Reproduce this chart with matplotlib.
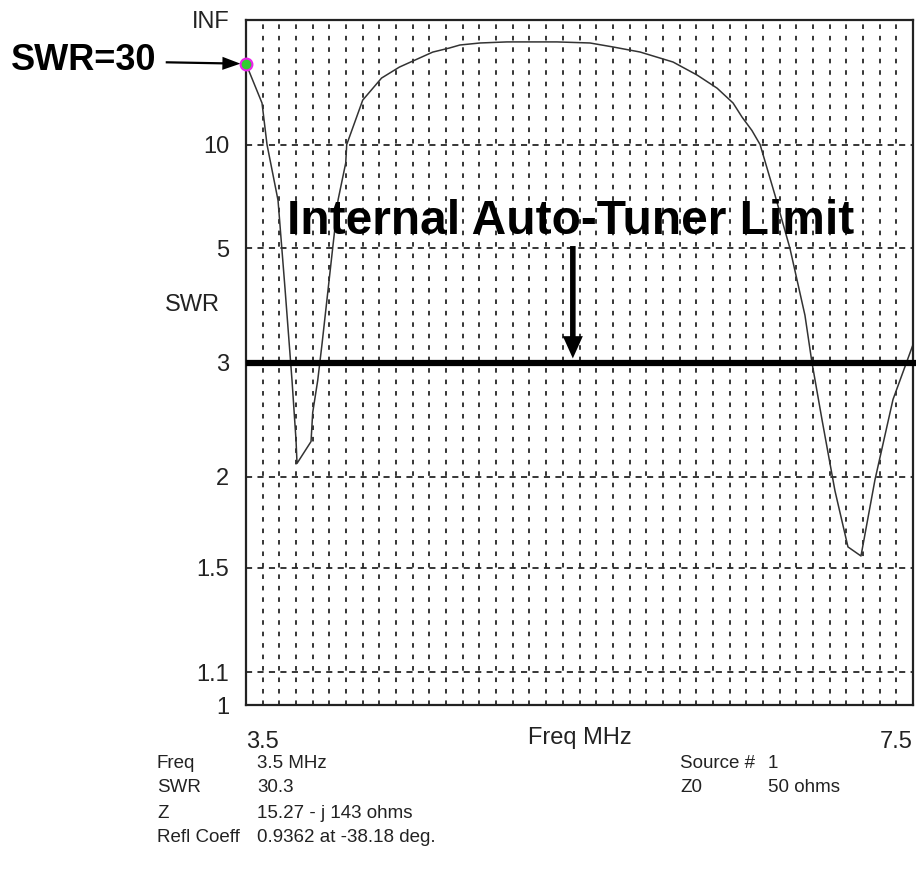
import numpy as np
import matplotlib
matplotlib.use("Agg")
from matplotlib import pyplot as plt

plt.rcParams["font.family"] = ["Liberation Sans", "DejaVu Sans"]

# SWR sweep
freq_mhz = [3.50, 3.596, 3.626, 3.692, 3.734, 3.776, 3.800, 3.806, 3.89, 3.90,
            3.93, 3.956, 4.004, 4.052, 4.098, 4.104, 4.20, 4.313, 4.42, 4.62,
            4.72, 4.783, 4.903, 5.065, 5.365, 5.563, 5.701, 5.863, 6.061, 6.205,
            6.325, 6.421, 6.475, 6.534, 6.583, 6.672, 6.762, 6.852, 6.894, 6.954,
            7.032, 7.110, 7.188, 7.272, 7.380, 7.50]
swr = [30.3, 15.5, 10.0, 6.6, 4.1, 2.8, 2.26, 2.09, 2.25, 2.49,
       2.80, 3.23, 4.44, 6.61, 8.58, 10.0, 16.1, 22.6, 28.1, 41.7,
       47.9, 53.8, 58.6, 61.5, 61.5, 58.6, 49.8, 41.8, 31.6, 23.9,
       19.1, 15.5, 13.1, 11.4, 10.0, 6.83, 5.0, 3.64, 3.0, 2.43,
       1.91, 1.60, 1.556, 1.98, 2.61, 3.22]

swr_ticks = [1, 1.1, 1.5, 2, 3, 5, 10, np.inf]
swr_tick_labels = ["1", "1.1", "1.5", "2", "3", "5", "10", "INF"]
grid_swr = [1.1, 1.5, 2, 3, 5, 10]
freq_grid = np.round(np.arange(3.6, 7.45, 0.1), 2)
freq_ticks = [3.5, 7.5]

marker_freq, marker_swr = 3.5, 30.3
tuner_limit_swr = 3.0

info_left = [("Freq", "3.5 MHz"), ("SWR", "30.3"), ("Z", "15.27 - j 143 ohms"),
             ("Refl Coeff", "0.9362 at -38.18 deg.")]
info_right = [("Source #", "1"), ("Z0", "50 ohms")]


def refl(s):
    # EZNEC plots SWR on a scale linear in |reflection coefficient|
    s = np.asarray(s, dtype=float)
    return 1 - 2 / (s + 1)


W, H = 916, 885
fig = plt.figure(figsize=(W / 100, H / 100), dpi=100)
ax = fig.add_axes([246 / W, 1 - 705 / H, 667 / W, 685 / H])

for f in freq_grid:
    ax.axvline(f, color="black", lw=1.1, ls=(0, (3, 4.5)), zorder=1)
for s in grid_swr:
    ax.axhline(refl(s), color="black", lw=1.1, ls=(0, (4, 3.5)), zorder=1)

ax.plot(freq_mhz, refl(swr), color="#333333", lw=1.1, zorder=2)
ax.plot([marker_freq], refl([marker_swr]), "o", ms=8.5, mfc="#33cc33",
        mec="#ee22ee", mew=1.5, zorder=3.5, clip_on=False)

ax.axhline(refl(tuner_limit_swr), 0, 1.005, color="black", lw=4.5,
           solid_capstyle="butt", clip_on=False, zorder=4)

ax.set_xlim(3.5, 7.5)
ax.set_ylim(0, 1)
ax.set_yticks(refl(swr_ticks), swr_tick_labels)
ax.set_xticks(freq_ticks, ["3.5", "7.5"])
ax.tick_params(length=0, labelsize=17, colors="#222222")
ax.tick_params(axis="y", pad=12)
ax.tick_params(axis="x", pad=19)
xl = ax.get_xticklabels()
xl[0].set_ha("left")
xl[1].set_ha("right")
for sp in ax.spines.values():
    sp.set_linewidth(1.6)
    sp.set_color("#222222")
    sp.set_zorder(3)

ax.text(0.5, -33 / 685, "Freq MHz", transform=ax.transAxes, ha="center",
        va="center", fontsize=17, color="#222222")
ax.text(-26 / 667, 0.584, "SWR", transform=ax.transAxes,
        ha="right", va="center", fontsize=17, color="#222222")

ax.text(0.487, 0.706, "Internal Auto-Tuner Limit", transform=ax.transAxes,
        ha="center", va="center", fontsize=34.5, fontweight="bold", zorder=5)
ax.annotate("", xy=(0.49, refl(tuner_limit_swr) + 0.006),
            xytext=(0.49, 0.67), xycoords=("axes fraction", "data"),
            textcoords=("axes fraction", "data"),
            arrowprops=dict(arrowstyle="simple,head_length=0.8,head_width=0.72,tail_width=0.2",
                            mutation_scale=20, fc="black", lw=0,
                            shrinkA=0, shrinkB=0), zorder=5)

ax.annotate("SWR=30", xy=(marker_freq, refl(marker_swr)),
            xytext=(-90, 3), textcoords="offset pixels", ha="right", va="center",
            fontsize=26, fontweight="bold", annotation_clip=False,
            arrowprops=dict(arrowstyle="simple,head_length=0.65,head_width=0.47,tail_width=0.08",
                            mutation_scale=20, fc="black", lw=0,
                            shrinkA=5, shrinkB=4))

rows_y = [763, 788, 813, 838]
for (name, val), y in zip(info_left, rows_y):
    fig.text(157 / W, 1 - y / H, name, ha="left", va="center", fontsize=13.5, color="#222222")
    fig.text(257 / W, 1 - y / H, val, ha="left", va="center", fontsize=13.5, color="#222222")
for (name, val), y in zip(info_right, rows_y):
    fig.text(680 / W, 1 - y / H, name, ha="left", va="center", fontsize=13.5, color="#222222")
    fig.text(768 / W, 1 - y / H, val, ha="left", va="center", fontsize=13.5, color="#222222")

fig.savefig("out.png", dpi=100, facecolor="white")
